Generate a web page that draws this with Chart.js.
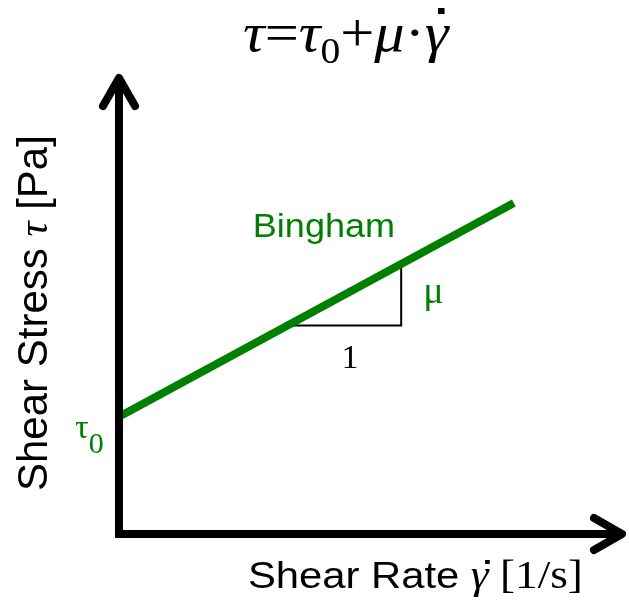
<!DOCTYPE html>
<html>
<head>
<meta charset="utf-8">
<title>Bingham plastic</title>
<script src="https://cdn.jsdelivr.net/npm/chart.js@4"></script>
<style>
  html, body { margin: 0; background: #fff; }
  canvas { display: block; }
</style>
</head>
<body>
<canvas id="rheology" width="629" height="606"></canvas>
<script>
// Bingham model: tau = tau0 + mu * gammaDot
const shearRate = [0, 7.85];
const shearStress = [2.57, 7.26];
// slope triangle under the line (run "1", rise "mu")
const slopeRun = [3.38, 5.61, 5.61];
const slopeRise = [4.57, 4.57, 5.9];
const axisMax = { x: 10, y: 10 };

const GREEN = '#008000';
const SANS = '"Liberation Sans", Arial, sans-serif';
const SERIF = '"Liberation Serif", "Times New Roman", serif';

function toPoints(xs, ys) {
    return xs.map((x, i) => ({ x: x, y: ys[i] }));
}

// draw several text pieces side by side, each with its own font
function drawRich(ctx, x, y, parts, color, sx = 1) {
    ctx.save();
    ctx.translate(x, y);
    ctx.scale(sx, 1);
    ctx.textBaseline = 'alphabetic';
    ctx.textAlign = 'left';
    let cx = 0;
    parts.forEach(p => {
        ctx.font = p.f;
        ctx.fillStyle = color;
        ctx.fillText(p.t, cx, p.dy || 0);
        const w = ctx.measureText(p.t).width;
        if (p.dot) {
            // overdot for the rate symbol
            ctx.fillRect(cx + w * p.dot.x, -p.dot.y, p.dot.s, p.dot.s);
        }
        cx += w;
    });
    ctx.restore();
}

const decor = {
    id: 'rheologyDecor',
    afterDatasetsDraw(chart) {
        const { ctx, scales: { x, y } } = chart;
        const x0 = x.getPixelForValue(0);
        const y0 = y.getPixelForValue(0);
        const xEnd = x.getPixelForValue(axisMax.x);
        const yEnd = y.getPixelForValue(axisMax.y);

        ctx.save();
        ctx.strokeStyle = '#000';
        ctx.lineWidth = 8;

        // axis shafts
        ctx.lineCap = 'butt';
        ctx.lineJoin = 'miter';
        ctx.beginPath();
        ctx.moveTo(x0, yEnd + 4);
        ctx.lineTo(x0, y0);
        ctx.lineTo(xEnd - 4, y0);
        ctx.stroke();

        // open arrow heads
        ctx.lineCap = 'round';
        ctx.lineJoin = 'round';
        ctx.beginPath();
        ctx.moveTo(x0 - 16, yEnd + 28);
        ctx.lineTo(x0, yEnd);
        ctx.lineTo(x0 + 16, yEnd + 28);
        ctx.moveTo(xEnd - 28, y0 - 16);
        ctx.lineTo(xEnd, y0);
        ctx.lineTo(xEnd - 28, y0 + 16);
        ctx.stroke();
        ctx.restore();
    },
    afterDraw(chart) {
        const { ctx, scales: { x, y } } = chart;
        const px = v => x.getPixelForValue(v);
        const py = v => y.getPixelForValue(v);

        // model equation
        drawRich(ctx, 243, 51, [
            { t: 'τ', f: 'italic 55px ' + SERIF },
            { t: '=', f: '55px ' + SERIF },
            { t: 'τ', f: 'italic 55px ' + SERIF },
            { t: '0', f: '36px ' + SERIF, dy: 12 },
            { t: '+', f: '55px ' + SERIF },
            { t: 'μ', f: 'italic 55px ' + SERIF },
            { t: '·', f: '55px ' + SERIF },
            { t: 'γ', f: 'italic 55px ' + SERIF, dot: { x: 0.55, y: 43, s: 6 } }
        ], '#000', 1.1);

        // axis titles
        drawRich(ctx, 248, 588, [
            { t: 'Shear Rate ', f: '36px ' + SANS },
            { t: 'γ', f: 'italic 39px ' + SERIF, dot: { x: 0.8, y: 28, s: 4 } },
            { t: ' [1/s]', f: '39px ' + SERIF }
        ], '#000', 1.16);

        ctx.save();
        ctx.translate(47, 491);
        ctx.rotate(-Math.PI / 2);
        drawRich(ctx, 0, 0, [
            { t: 'Shear Stress ', f: '42px ' + SANS },
            { t: 'τ', f: 'italic 42px ' + SERIF },
            { t: ' [Pa]', f: '42px ' + SANS }
        ], '#000');
        ctx.restore();

        // curve and slope labels
        drawRich(ctx, px(2.66), py(6.51), [
            { t: 'Bingham', f: '34px ' + SANS }
        ], GREEN, 1.06);

        drawRich(ctx, px(slopeRun[1]) + 22, py((slopeRise[1] + slopeRise[2]) / 2) + 8, [
            { t: 'μ', f: '38px ' + SERIF }
        ], GREEN);

        ctx.save();
        ctx.font = '34px ' + SERIF;
        ctx.fillStyle = '#000';
        ctx.textAlign = 'center';
        ctx.fillText('1', (px(slopeRun[0]) + px(slopeRun[1])) / 2 + 5, py(slopeRise[0]) + 42);
        ctx.restore();

        drawRich(ctx, 75, py(shearStress[0]) + 21, [
            { t: 'τ', f: '34px ' + SERIF },
            { t: '0', f: '30px ' + SERIF, dy: 15 }
        ], GREEN);
    }
};

new Chart(document.getElementById('rheology'), {
    type: 'scatter',
    data: {
        datasets: [
            {
                label: 'Bingham',
                data: toPoints(shearRate, shearStress),
                showLine: true,
                borderColor: GREEN,
                borderWidth: 8,
                borderCapStyle: 'butt',
                pointRadius: 0,
                clip: false
            },
            {
                label: 'slope',
                data: toPoints(slopeRun, slopeRise),
                showLine: true,
                borderColor: '#000',
                borderWidth: 2,
                pointRadius: 0,
                clip: false
            }
        ]
    },
    options: {
        responsive: false,
        animation: false,
        devicePixelRatio: 1,
        layout: { padding: { left: 119, right: 7, top: 78, bottom: 72 } },
        plugins: {
            legend: { display: false },
            tooltip: { enabled: false }
        },
        scales: {
            x: { type: 'linear', min: 0, max: axisMax.x, display: false },
            y: { type: 'linear', min: 0, max: axisMax.y, display: false }
        }
    },
    plugins: [decor]
});
</script>
</body>
</html>
